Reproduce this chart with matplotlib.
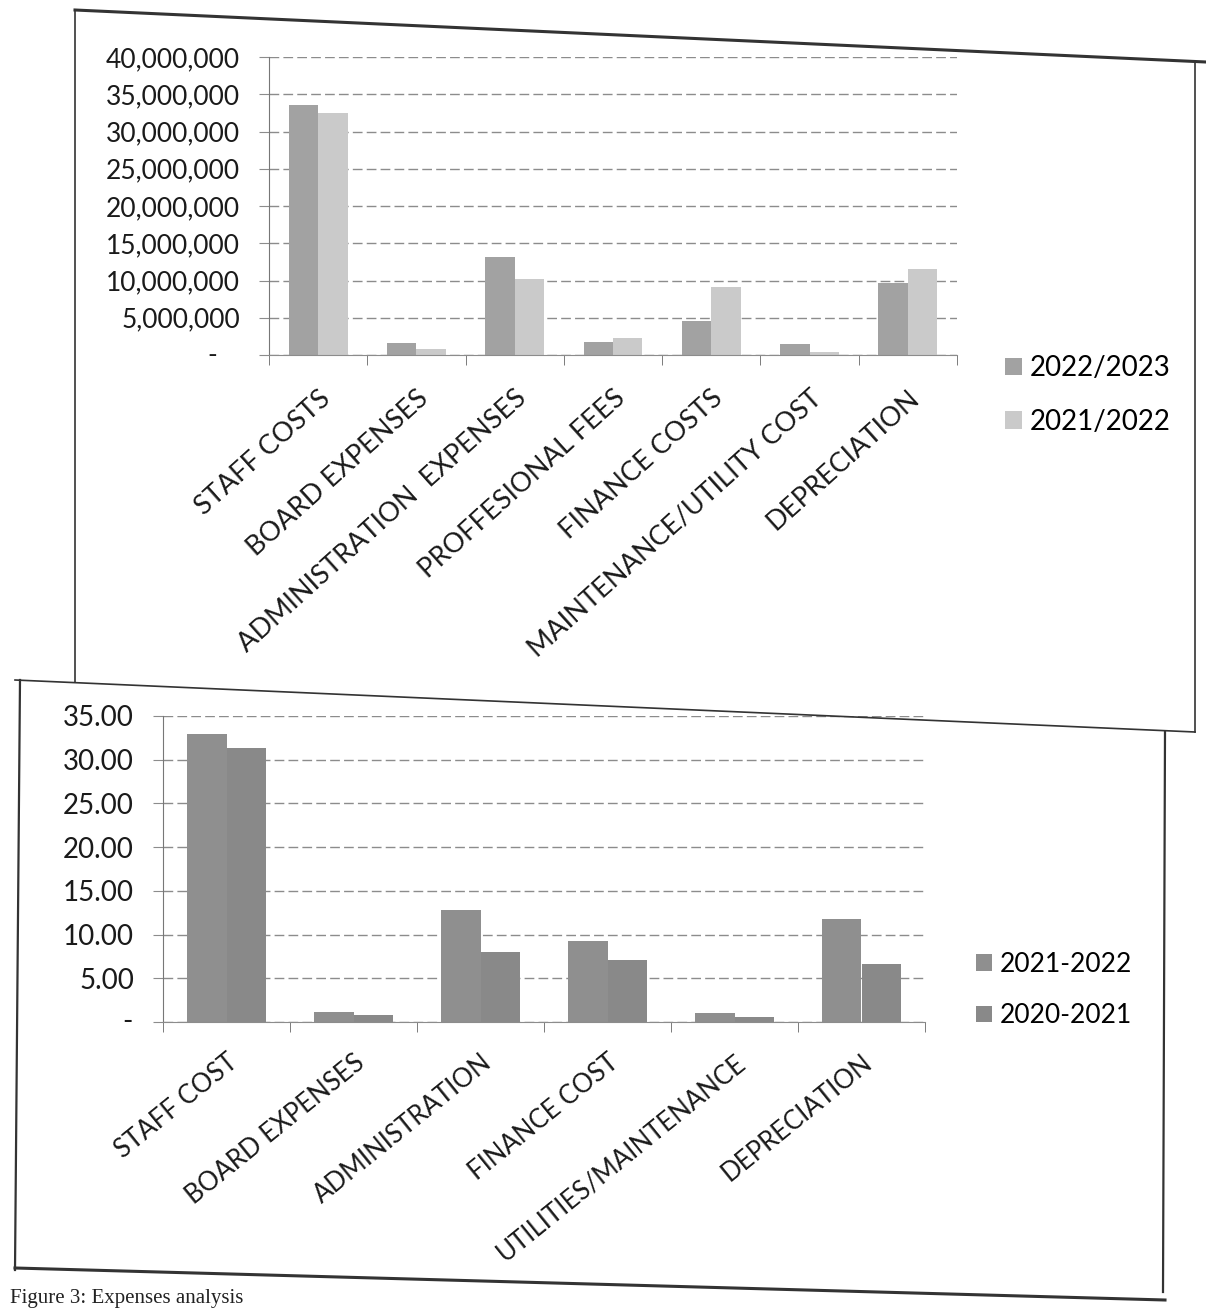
import matplotlib.pyplot as plt
import numpy as np
from matplotlib.lines import Line2D

plt.rcParams['font.family'] = ['Lato', 'DejaVu Sans']

# expenses by year (top panel, KES)
top_categories = ['STAFF COSTS', 'BOARD EXPENSES', 'ADMINISTRATION  EXPENSES',
                  'PROFFESIONAL FEES', 'FINANCE COSTS', 'MAINTENANCE/UTILITY COST',
                  'DEPRECIATION']
top_series = ['2022/2023', '2021/2022']
fy2023 = [33600000, 1600000, 13100000, 1800000, 4600000, 1500000, 9700000]
fy2022 = [32500000, 800000, 10200000, 2300000, 9100000, 450000, 11600000]
top_ticks = [0, 5000000, 10000000, 15000000, 20000000, 25000000, 30000000, 35000000, 40000000]

# expenses by year (bottom panel, millions)
bottom_categories = ['STAFF COST', 'BOARD EXPENSES', 'ADMINISTRATION',
                     'FINANCE COST', 'UTILITIES/MAINTENANCE', 'DEPRECIATION']
bottom_series = ['2021-2022', '2020-2021']
fy2122 = [32.9, 1.2, 12.8, 9.3, 1.0, 11.8]
fy2021 = [31.3, 0.8, 8.0, 7.1, 0.6, 6.6]
bottom_ticks = [0, 5, 10, 15, 20, 25, 30, 35]

W, H = 1206, 1310
fig = plt.figure(figsize=(W / 100, H / 100), dpi=100)
fig.patch.set_facecolor('white')


def box(x0, y0, x1, y1):
    # axes rectangle from pixel corners (top-left origin)
    return [x0 / W, 1 - y1 / H, (x1 - x0) / W, (y1 - y0) / H]


def frame_line(xs, ys, lw=1.2, color='#333333'):
    fig.add_artist(Line2D([x / W for x in xs], [1 - y / H for y in ys],
                          transform=fig.transFigure, lw=lw, color=color))


def style_axes(ax, ticks, labels, cats, rot, zero_pad, ysize, xsize, xpad):
    ax.set_ylim(ticks[0], ticks[-1])
    ax.set_xlim(-0.5, len(cats) - 0.5)
    ax.set_yticks(ticks)
    ax.set_yticklabels([''] + labels[1:])
    ax.text(-zero_pad, 0, '-', transform=ax.get_yaxis_transform(),
            ha='right', va='center', fontsize=ysize, color='#1a1a1a')
    ax.yaxis.grid(True, color='#8c8c8c', lw=1.0, ls=(0, (7, 3)))
    ax.set_axisbelow(True)
    for s in ['top', 'right']:
        ax.spines[s].set_visible(False)
    ax.spines['left'].set_color('#777777')
    ax.spines['bottom'].set_color('#8c8c8c')
    ax.tick_params(axis='y', length=7, color='#8c8c8c', labelsize=ysize,
                   labelcolor='#1a1a1a', pad=14)
    ax.set_xticks(np.arange(len(cats)))
    ax.set_xticklabels(cats, rotation=rot, ha='right', rotation_mode='anchor',
                       fontsize=xsize, color='#1a1a1a')
    ax.tick_params(axis='x', length=0, pad=xpad)
    ax.set_xticks(np.arange(len(cats) + 1) - 0.5, minor=True)
    ax.tick_params(axis='x', which='minor', length=7, color='#666666')
    ax.set_facecolor('none')


# page frames of the two pasted charts
frame_line([75, 1206], [10, 62], lw=2.2)
frame_line([75, 75], [10, 682])
frame_line([1195, 1195], [62, 732])
frame_line([15, 1195], [680, 732])
frame_line([20, 15], [680, 1270], lw=1.6)
frame_line([1165, 1163], [732, 1292], lw=1.6)
frame_line([15, 1165], [1268, 1300], lw=2.2)

# top chart
ax1 = fig.add_axes(box(269, 57, 957, 355))
x = np.arange(len(top_categories))
bw = 0.3
b1 = ax1.bar(x - bw / 2, fy2023, bw, color='#a2a2a2', label=top_series[0])
b2 = ax1.bar(x + bw / 2, fy2022, bw, color='#cacaca', label=top_series[1])
style_axes(ax1, top_ticks, [f'{t:,}' for t in top_ticks], top_categories,
           42, 0.075, 19, 19.5, 22)
fig.legend(handles=[b1, b2], labels=top_series, loc='center left',
           bbox_to_anchor=(1005 / W, 1 - 395 / H), frameon=False, fontsize=20,
           borderpad=0, borderaxespad=0,
           handlelength=0.6, handleheight=0.6, handletextpad=0.3, labelspacing=1.0)

# bottom chart
ax2 = fig.add_axes(box(163, 716, 925, 1022))
x = np.arange(len(bottom_categories))
bw = 0.31
c1 = ax2.bar(x - bw / 2, fy2122, bw, color='#8f8f8f', label=bottom_series[0])
c2 = ax2.bar(x + bw / 2, fy2021, bw, color='#898989', label=bottom_series[1])
style_axes(ax2, bottom_ticks, [f'{t:.2f}' for t in bottom_ticks], bottom_categories,
           39, 0.04, 20, 18.5, 20)
fig.legend(handles=[c1, c2], labels=bottom_series, loc='center left',
           bbox_to_anchor=(976 / W, 1 - 990 / H), frameon=False, fontsize=19,
           borderpad=0, borderaxespad=0,
           handlelength=0.6, handleheight=0.6, handletextpad=0.3, labelspacing=1.0)

fig.text(10 / W, 1 - 1308 / H, 'Figure 3: Expenses analysis', fontsize=15,
         family='Liberation Serif', ha='left', va='bottom', color='#222222')

fig.savefig('out.png', dpi=100, facecolor='white')
